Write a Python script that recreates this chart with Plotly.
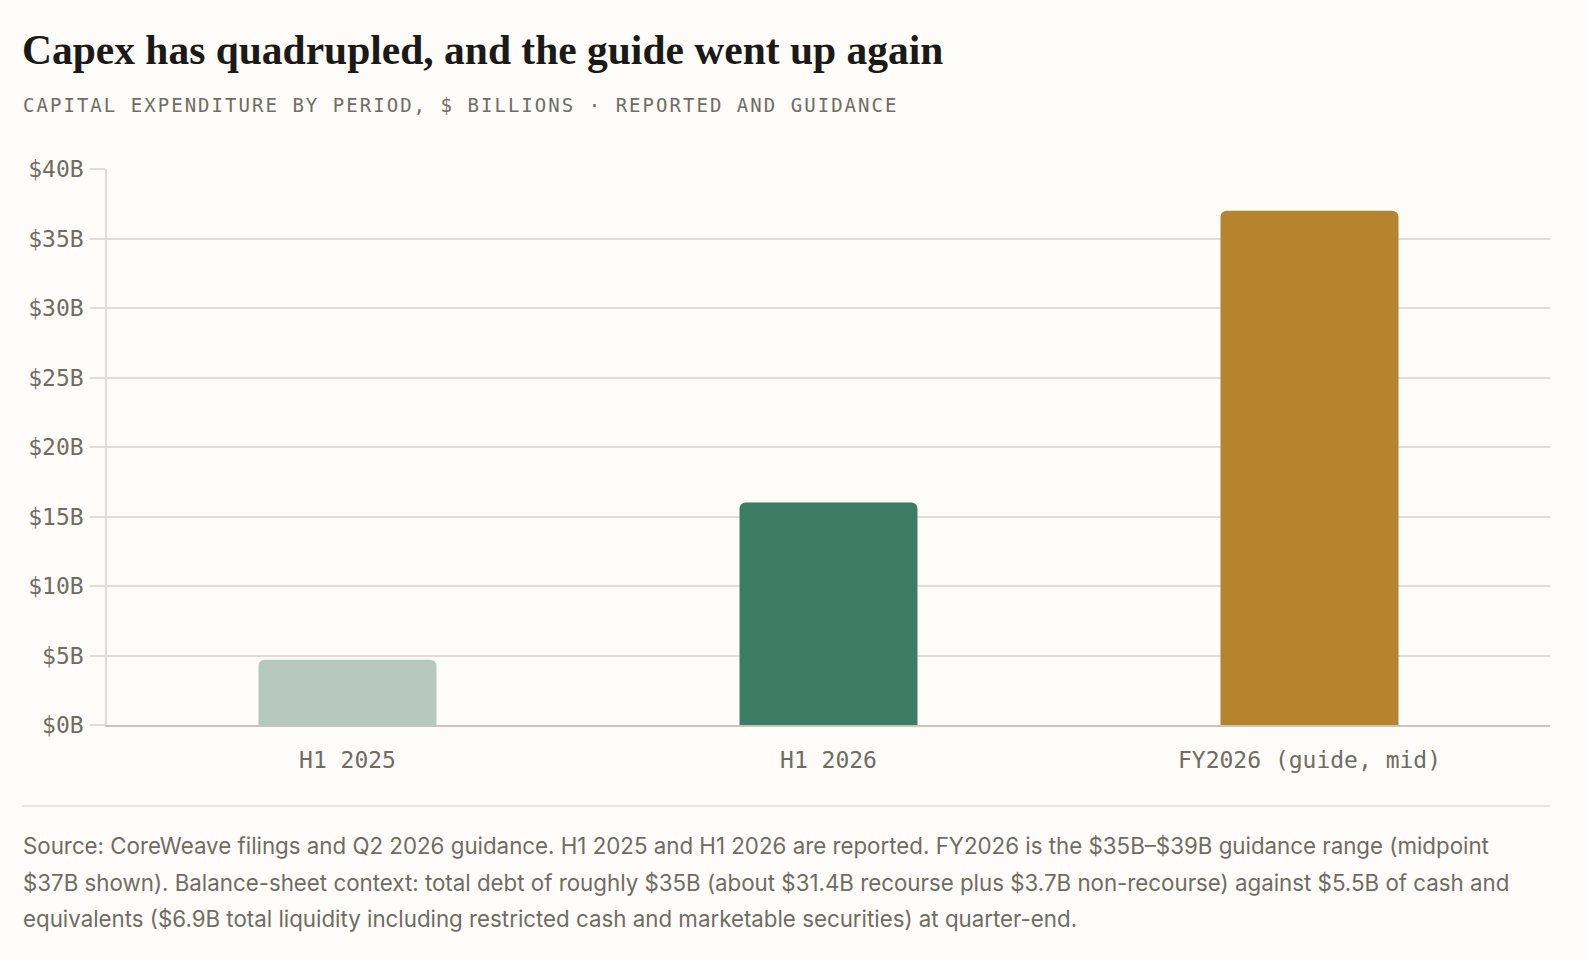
import plotly.graph_objects as go

# capex by period, $B
periods = ["H1 2025", "H1 2026", "FY2026 (guide, mid)"]
capex = [4.7, 16.0, 37.0]
bar_colors = ["#b7c8be", "#3d7c64", "#b5842d"]

tick_vals = [0, 5, 10, 15, 20, 25, 30, 35, 40]
tick_text = [f"${v}B" for v in tick_vals]

title = "Capex has quadrupled, and the guide went up again"
subtitle = "CAPITAL EXPENDITURE BY PERIOD, $ BILLIONS · REPORTED AND GUIDANCE"
source_lines = [
    "Source: CoreWeave filings and Q2 2026 guidance. H1 2025 and H1 2026 are reported. FY2026 is the $35B–$39B guidance range (midpoint",
    "$37B shown). Balance-sheet context: total debt of roughly $35B (about $31.4B recourse plus $3.7B non-recourse) against $5.5B of cash and",
    "equivalents ($6.9B total liquidity including restricted cash and marketable securities) at quarter-end.",
]

W, H = 1588, 960
L, R, T, B = 107, 38, 169, 235
pw, ph = W - L - R, H - T - B

def px(x):
    return (x - L) / pw

def py(y):
    return (H - B - y) / ph

MONO = "DejaVu Sans Mono, monospace"
BG = "#fdfcf9"
GRID = "#e1ddd4"
MUTED = "#6f6c62"

fig = go.Figure()
fig.add_trace(go.Bar(
    x=periods,
    y=capex,
    marker=dict(color=bar_colors, cornerradius=6, line=dict(width=0)),
    width=0.37,
    hoverinfo="skip",
))

fig.update_layout(
    width=W, height=H,
    margin=dict(l=L, r=R, t=T, b=B),
    paper_bgcolor=BG, plot_bgcolor=BG,
    showlegend=False,
    xaxis=dict(
        range=[-0.5, 2.5],
        showgrid=False,
        showline=True, linecolor="#c9c5bb", linewidth=1.5,
        ticks="", ticklabelstandoff=14,
        tickfont=dict(family=MONO, size=23, color=MUTED),
    ),
    yaxis=dict(
        range=[0, 40],
        tickvals=tick_vals, ticktext=tick_text,
        showgrid=True, gridcolor=GRID, gridwidth=1.5,
        zeroline=False,
        showline=True, linecolor=GRID, linewidth=1.5,
        ticks="outside", ticklen=15, tickcolor=GRID, tickwidth=1.5,
        ticklabelstandoff=2,
        tickfont=dict(family=MONO, size=23, color=MUTED),
    ),
)

fig.add_annotation(
    xref="paper", yref="paper", x=px(20), y=py(50),
    xanchor="left", yanchor="middle", showarrow=False,
    text=f"<b>{title}</b>",
    font=dict(family="Liberation Serif, serif", size=41.5, color="#1b1a17"),
)
fig.add_annotation(
    xref="paper", yref="paper", x=px(21), y=py(105),
    xanchor="left", yanchor="middle", showarrow=False,
    text=f'<span style="letter-spacing:2.03px">{subtitle}</span>',
    font=dict(family=MONO, size=19, color=MUTED),
)
fig.add_shape(
    type="line", xref="paper", yref="paper",
    x0=px(22), x1=px(1550), y0=py(806), y1=py(806),
    line=dict(color=GRID, width=1.5),
)
for line, y in zip(source_lines, [845, 882, 918]):
    fig.add_annotation(
        xref="paper", yref="paper", x=px(21), y=py(y),
        xanchor="left", yanchor="middle", align="left", showarrow=False,
        text=line,
        font=dict(family="Inter, Noto Sans, sans-serif", size=22.3, color=MUTED),
    )

fig.write_html(
    "out.html",
    config={"displayModeBar": False},
    post_script="document.body.style.margin='0';",
)
